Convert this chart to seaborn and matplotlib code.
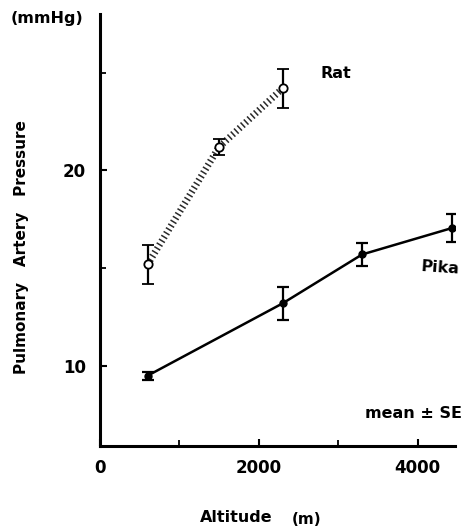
import matplotlib
matplotlib.use("Agg")
import matplotlib.pyplot as plt
import seaborn as sns
import pandas as pd

rat_alt = [600, 1500, 2300]
rat_mean = [15.2, 21.2, 24.2]
rat_se = [1.0, 0.4, 1.0]

pika_alt = [600, 2300, 3300, 4430]
pika_mean = [9.5, 13.2, 15.7, 17.05]
pika_se = [0.2, 0.85, 0.6, 0.7]

xticks = [0, 2000, 4000]
yticks = [10, 20]

sns.set_style("white", {"xtick.bottom": True, "ytick.left": True,
                        "text.color": "black", "xtick.color": "black",
                        "ytick.color": "black", "axes.labelcolor": "black"})
plt.rcParams['font.family'] = ['DejaVu Sans']
plt.rcParams['font.weight'] = 'bold'

fig = plt.figure(figsize=(4.69, 5.31), dpi=100)
ax = fig.add_axes([0.2132, 0.160, 0.757, 0.8136])

rat = pd.DataFrame({"alt": rat_alt, "p": rat_mean})
pika = pd.DataFrame({"alt": pika_alt, "p": pika_mean})

sns.lineplot(data=rat, x="alt", y="p", ax=ax, color="#2a2a2a", lw=5,
             linestyle=(0, (0.22, 0.42)), marker=None)
sns.lineplot(data=pika, x="alt", y="p", ax=ax, color="black", lw=1.8, marker=None)

ax.errorbar(rat_alt, rat_mean, yerr=rat_se, fmt='o', mfc='white', mec='black',
            mew=1.3, ms=6, ecolor='black', elinewidth=1.6, capsize=4, capthick=1.6, zorder=5)
ax.errorbar(pika_alt, pika_mean, yerr=pika_se, fmt='o', mfc='black', mec='black',
            ms=5, ecolor='black', elinewidth=1.6, capsize=4, capthick=1.6, zorder=5)

ax.set_xlim(0, 4470)
ax.set_ylim(5.9, 28)
ax.set_xticks(xticks)
ax.set_xticks([1000, 3000], minor=True)
ax.set_yticks(yticks)
ax.set_yticks([15, 25], minor=True)
ax.set_xticklabels([str(v) for v in xticks], fontsize=12, fontweight='bold')
ax.set_yticklabels([str(v) for v in yticks], fontsize=12, fontweight='bold')
ax.tick_params(axis='both', which='major', direction='in', length=5, width=1.5,
               colors='black')
ax.tick_params(axis='both', which='minor', direction='in', length=4, width=1.3,
               colors='black')
ax.tick_params(axis='x', which='major', pad=9)
ax.tick_params(axis='y', which='major', pad=10)

for s in ['top', 'right']:
    ax.spines[s].set_visible(False)
for s in ['left', 'bottom']:
    ax.spines[s].set_linewidth(2.2)
    ax.spines[s].set_color('black')

ax.set_xlabel("")
ax.set_ylabel("")

fig.text(22 / 469, 1 - 247 / 531, "Pulmonary   Artery   Pressure", rotation=90,
         ha='center', va='center', fontsize=11, fontweight='bold')
fig.text(47 / 469, 1 - 18 / 531, "(mmHg)", ha='center', va='center',
         fontsize=11.5, fontweight='bold')
fig.text(200 / 469, 1 - 518 / 531, "Altitude", ha='left', va='center',
         fontsize=11.5, fontweight='bold')
fig.text(292 / 469, 1 - 520 / 531, "(m)", ha='left', va='center',
         fontsize=11, fontweight='bold')
fig.text(336 / 469, 1 - 73 / 531, "Rat", ha='center', va='center',
         fontsize=11.5, fontweight='bold')
fig.text(440 / 469, 1 - 268 / 531, "Pika", ha='center', va='center',
         fontsize=11.5, fontweight='bold', rotation=-4)
fig.text(413 / 469, 1 - 413 / 531, "mean \u00b1 SE", ha='center', va='center',
         fontsize=11.5, fontweight='bold')

fig.savefig("out.png", dpi=100)
